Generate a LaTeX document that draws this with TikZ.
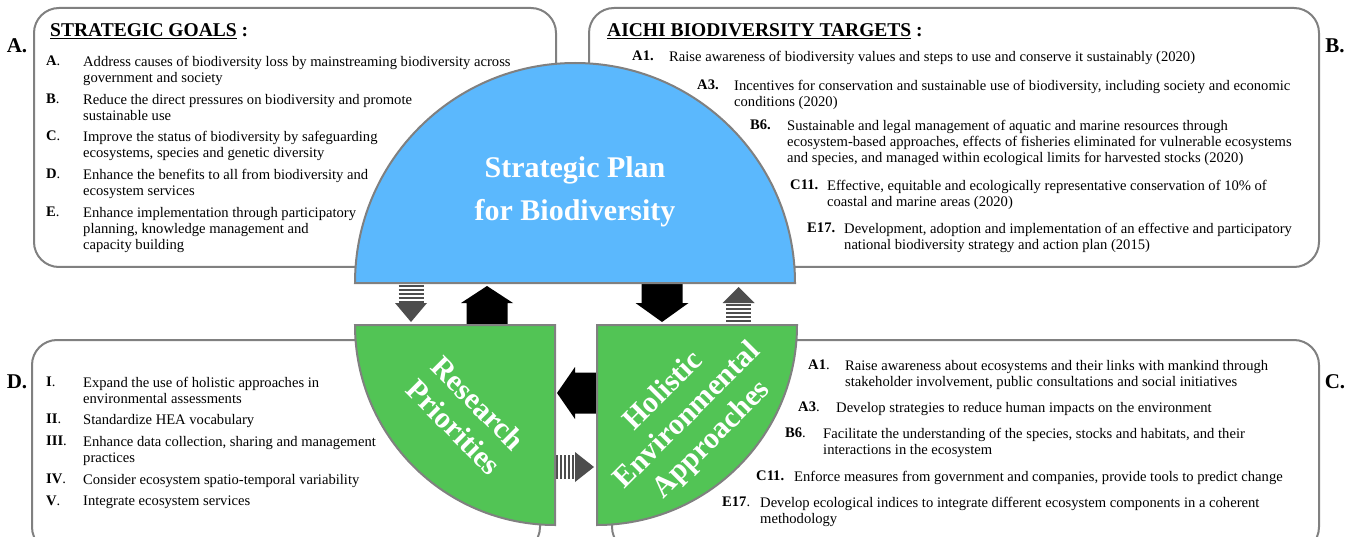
\documentclass[tikz,border=0pt]{standalone}
\usepackage{fontspec}
\setmainfont{Liberation Serif}

\definecolor{planblue}{RGB}{91,184,253}
\definecolor{heagreen}{RGB}{82,196,85}
\definecolor{edgegray}{RGB}{128,128,128}
\definecolor{stripegray}{RGB}{77,77,77}

\tikzset{
  panel/.style={draw=edgegray,line width=2pt,rounded corners=25pt,fill=white},
  blob/.style={draw=edgegray,line width=2pt},
  item/.style={anchor=north west,inner sep=0pt,align=left,font=\fontsize{14.6}{16}\selectfont},
  tag/.style={anchor=north west,inner sep=0pt,font=\fontsize{14.6}{16}\selectfont},
  heading/.style={anchor=base west,inner sep=0pt,font=\fontsize{19.5}{22}\selectfont\bfseries},
  side/.style={inner sep=0pt,font=\fontsize{21}{24}\selectfont\bfseries},
  bigtext/.style={text=white,align=center,inner sep=0pt,font=\fontsize{30}{43}\selectfont\bfseries},
  stripes/.style={draw=stripegray,line width=2pt}
}

\begin{document}
\begin{tikzpicture}[x=1pt,y=-1pt]
    \useasboundingbox (0,0) rectangle (1351,537);

    % Boxes
    \draw[panel] (34,8) rectangle (556,267);
    \draw[panel] (589,8) rectangle (1319,267);
    \draw[panel] (32,340) rectangle (540,552);
    \draw[panel] (612,340) rectangle (1319,552);

    % Arrows
    \coordinate (rpUp) at (487,326);
    \coordinate (spDown) at (662,282);
    \coordinate (heLeft) at (596,393);
    \fill[black] (rpUp) ++(-20.5,0) -- ++(0,-23) -- ++(-5.5,0) -- ++(26,-17) -- ++(26,17)
        -- ++(-5.5,0) -- ++(0,23) -- cycle;
    \fill[black] (spDown) ++(-20.5,0) -- ++(0,21) -- ++(-6,0) -- ++(26.5,19) -- ++(26.5,-19)
        -- ++(-6,0) -- ++(0,-21) -- cycle;
    \fill[black] (heLeft) ++(0,-20.5) -- ++(-21,0) -- ++(0,-5.5) -- ++(-18,26) -- ++(18,26)
        -- ++(0,-5.5) -- ++(21,0) -- cycle;

    \foreach \k in {0,...,4} {
        \draw[stripes] (398.5,285.5+4*\k) -- (423.5,285.5+4*\k);
        \draw[stripes] (726,305+4*\k) -- (751,305+4*\k);
        \draw[stripes] (557+4*\k,455) -- (557+4*\k,479);
    }
    \fill[stripegray] (395,303) -- (427,303) -- (411,322) -- cycle;
    \fill[stripegray] (722.5,303) -- (754.5,303) -- (738.5,287) -- cycle;
    \fill[stripegray] (575,452) -- (575,482) -- (594,467) -- cycle;

    % Plan and quarters
    \draw[blob,fill=planblue] (355,283) arc[start angle=180,end angle=0,radius=220pt] -- cycle;
    \draw[blob,fill=heagreen] (355,325) -- (555,325) -- (555,525)
        arc[start angle=270,end angle=180,radius=200pt] -- cycle;
    \draw[blob,fill=heagreen] (597,525) -- (597,325) -- (797,325)
        arc[start angle=0,end angle=-90,radius=200pt] -- cycle;

    \node[bigtext] (plan) at (575,192) {Strategic Plan\\for Biodiversity};
    \node[bigtext,rotate=-45,font=\fontsize{30}{34}\selectfont\bfseries] (research) at (466,415)
        {Research\\Priorities};
    \node[bigtext,rotate=45,font=\fontsize{30}{34}\selectfont\bfseries] (holistic) at (688,416)
        {Holistic\\Environmental\\Approaches};

    % Side letters
    \node[side] (markA) at (17,46) {A.};
    \node[side] (markB) at (1335,46) {B.};
    \node[side] (markC) at (1335,382) {C.};
    \node[side] (markD) at (17,382) {D.};

    % A. strategic goals
    \node[heading] (goals) at (50,37) {\underline{STRATEGIC GOALS} :};
    \node[tag] (tagA) at (46,56) {\textbf{A}.};
    \node[item] (goalA) at (83,56) {Address causes of biodiversity loss by mainstreaming biodiversity across\\government and society};
    \node[tag] (tagB) at (46,94) {\textbf{B}.};
    \node[item] (goalB) at (83,94) {Reduce the direct pressures on biodiversity and promote\\sustainable use};
    \node[tag] (tagC) at (46,131) {\textbf{C}.};
    \node[item] (goalC) at (83,131) {Improve the status of biodiversity by safeguarding\\ecosystems, species and genetic diversity};
    \node[tag] (tagD) at (46,169) {\textbf{D}.};
    \node[item] (goalD) at (83,169) {Enhance the benefits to all from biodiversity and\\ecosystem services};
    \node[tag] (tagE) at (46,207) {\textbf{E}.};
    \node[item] (goalE) at (83,207) {Enhance implementation through participatory\\planning, knowledge management and\\capacity building};

    % B. Aichi targets
    \node[heading] (targets) at (607,37) {\underline{AICHI BIODIVERSITY TARGETS} :};
    \node[tag] (tagTA1) at (632,51) {\textbf{A1.}};
    \node[item] (targetA1) at (669,51) {Raise awareness of biodiversity values and steps to use and conserve it sustainably (2020)};
    \node[tag] (tagTA3) at (697,80) {\textbf{A3.}};
    \node[item] (targetA3) at (734,80) {Incentives for conservation and sustainable use of biodiversity, including society and economic\\conditions (2020)};
    \node[tag] (tagTB6) at (750,120) {\textbf{B6.}};
    \node[item] (targetB6) at (787,120) {Sustainable and legal management of aquatic and marine resources through\\ecosystem-based approaches, effects of fisheries eliminated for vulnerable ecosystems\\and species, and managed within ecological limits for harvested stocks (2020)};
    \node[tag] (tagTC11) at (790,180) {\textbf{C11.}};
    \node[item] (targetC11) at (827,180) {Effective, equitable and ecologically representative conservation of 10\% of\\coastal and marine areas (2020)};
    \node[tag] (tagTE17) at (807,223) {\textbf{E17.}};
    \node[item] (targetE17) at (844,223) {Development, adoption and implementation of an effective and participatory\\national biodiversity strategy and action plan (2015)};

    % C. holistic approaches
    \node[tag] (tagHA1) at (808,360) {\textbf{A1}.};
    \node[item] (heaA1) at (845,360) {Raise awareness about ecosystems and their links with mankind through\\stakeholder involvement, public consultations and social initiatives};
    \node[tag] (tagHA3) at (798,402) {\textbf{A3}.};
    \node[item] (heaA3) at (836,402) {Develop strategies to reduce human impacts on the environment};
    \node[tag] (tagHB6) at (785,428) {\textbf{B6}.};
    \node[item] (heaB6) at (823,428) {Facilitate the understanding of the species, stocks and habitats, and their\\interactions in the ecosystem};
    \node[tag] (tagHC11) at (756,471) {\textbf{C11.}};
    \node[item] (heaC11) at (794,471) {Enforce measures from government and companies, provide tools to predict change};
    \node[tag] (tagHE17) at (722,497) {\textbf{E17}.};
    \node[item] (heaE17) at (760,497) {Develop ecological indices to integrate different ecosystem components in a coherent\\methodology};

    % D. research priorities
    \node[tag] (tagI) at (46,377) {\textbf{I}.};
    \node[item] (prioI) at (83,377) {Expand the use of holistic approaches in\\environmental assessments};
    \node[tag] (tagII) at (46,414) {\textbf{II}.};
    \node[item] (prioII) at (83,414) {Standardize HEA vocabulary};
    \node[tag] (tagIII) at (46,436) {\textbf{III}.};
    \node[item] (prioIII) at (83,436) {Enhance data collection, sharing and management\\practices};
    \node[tag] (tagIV) at (46,474) {\textbf{IV}.};
    \node[item] (prioIV) at (83,474) {Consider ecosystem spatio-temporal variability};
    \node[tag] (tagV) at (46,496) {\textbf{V}.};
    \node[item] (prioV) at (83,496) {Integrate ecosystem services};
\end{tikzpicture}
\end{document}
